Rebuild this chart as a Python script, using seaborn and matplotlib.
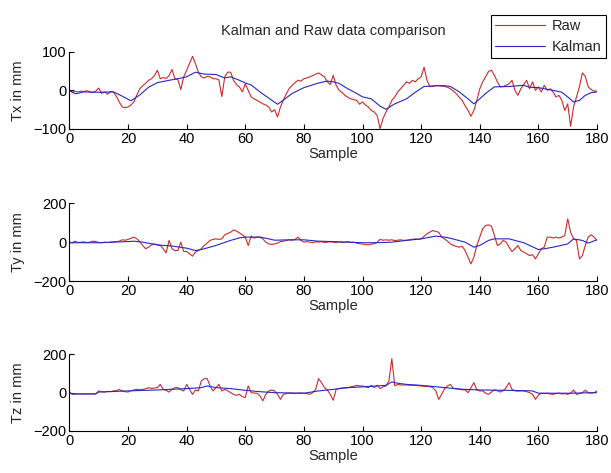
import numpy as np
import pandas as pd
import seaborn as sns
from matplotlib import pyplot as plt

#%% data (sample index -> mm)
sample_raw = list(range(0, 181))

tx_raw = [0, -5, -3, -4, -2, -3, -1, -4, -6, -2, 6, -8, -4, -10, -3, -4, -15, -30, -43, -45,
          -43, -38, -30, -12, 4, 12, 18, 26, 30, 38, 52, 30, 33, 31, 38, 54, 30, 28, 2, 35,
          52, 70, 88, 69, 47, 35, 32, 36, 35, 30, 30, 27, -16, 35, 47, 47, 26, 15, 9, -4,
          17, 0, -17, -22, -26, -30, -35, -38, -43, -56, -50, -69, -43, -25, -9, 5, 13, 20, 26, 24,
          30, 32, 35, 38, 42, 45, 40, 35, 22, 15, 39, 13, 0, -5, -13, -18, -22, -24, -26, -36,
          -30, -38, -43, -52, -56, -65, -99, -73, -56, -43, -26, -17, -4, 4, 13, 22, 18, 26, 22, 30,
          35, 60, 26, 10, 10, 12, 12, 11, 10, 8, 4, -2, -9, -18, -26, -40, -52, -67, -52, -26,
          4, 22, 35, 49, 52, 39, 22, 9, 10, 13, 17, 26, 0, -13, 4, 15, 26, 4, 22, 0,
          9, -4, 13, 0, 4, -4, -17, -13, -26, -52, -35, -93, -43, -17, 9, 45, 36, 9, 2, -2, -2]

tx_kal_x = [0, 2, 5, 10, 15, 18, 21, 24, 27, 30, 34, 37, 40, 43, 46, 50, 53, 55, 58, 60,
            62, 65, 68, 71, 73, 76, 80, 85, 88, 90, 92, 95, 98, 100, 103, 106, 108, 111, 115, 118,
            121, 125, 128, 130, 133, 136, 138, 140, 142, 145, 150, 155, 157, 160, 165, 168, 170, 172, 174, 176,
            178, 180]
tx_kal = [0, -9, -4, -5, -4, -15, -27, -12, 8, 20, 26, 30, 35, 47, 42, 41, 32, 35, 26, 19,
          14, -4, -20, -36, -25, -8, 7, 19, 24, 22, 18, 4, -8, -17, -22, -41, -49, -35, -22, -5,
          10, 12, 12, 10, -4, -22, -35, -22, -8, 9, 10, 13, 8, 7, 0, -5, -17, -30, -26, -13,
          -6, -4]

ty_raw = [0, -3, 5, -2, 0, 2, -3, 0, 5, 3, -2, -3, 0, -2, 0, 2, 3, 5, 12, 10,
          14, 20, 26, 17, 3, -17, -34, -26, -14, -9, -14, -17, -34, -55, 9, -34, -43, -43, 0, -48,
          -48, -60, -72, -51, -43, -34, -17, -5, 9, 14, 17, 14, 17, 38, 45, 51, 63, 57, 48, 38,
          26, -17, 31, 21, 26, 26, 17, 0, -9, -12, -9, -5, 3, 5, 8, 12, 10, 14, 26, 9,
          0, 3, 0, -3, 2, 0, 3, -2, 0, 2, 0, -3, 2, -2, 0, 3, -2, 0, -5, -8,
          -10, -12, -14, -10, -8, 0, 14, 10, 12, 10, 12, 8, 10, 12, 9, 10, 12, 14, 17, 15,
          17, 30, 43, 52, 60, 55, 51, 26, 17, 5, -9, -17, -22, -26, -21, -43, -77, -112, -77, -17,
          26, 69, 86, 89, 82, 34, -17, -9, 9, 0, -26, -48, -34, -17, -43, -51, -60, -69, -65, -86,
          -60, -34, -26, 26, 26, 21, 26, 21, 26, 34, 120, 51, 17, 9, -86, -69, -17, 26, 38, 26, 9]

ty_kal_x = [0, 10, 15, 20, 22, 25, 30, 35, 40, 43, 45, 50, 55, 58, 60, 65, 68, 70, 75, 80,
            85, 90, 95, 100, 105, 110, 115, 120, 125, 128, 130, 135, 138, 140, 143, 145, 150, 155, 160, 162,
            165, 170, 172, 175, 177, 180]
ty_kal = [-3, -3, 0, 3, 5, 0, -14, -20, -31, -43, -38, -17, 9, 22, 26, 26, 17, 10, 12, 12,
          5, 3, 0, -3, -3, 0, 9, 17, 31, 26, 20, 0, -26, -17, 9, 17, 17, -3, -38, -34,
          -26, -9, 17, 9, -5, 12]

tz_raw = [0, -7, -7, -6, -7, -7, -6, -7, -6, -5, 9, 5, 3, 7, 5, 9, 10, 17, 9, 5,
          3, 10, 14, 17, 15, 17, 20, 26, 22, 24, 26, 43, 17, 12, 3, 17, 26, 26, 15, 9,
          43, 17, -9, 14, 9, 61, 73, 73, 35, 9, 26, 43, 9, 17, 10, 0, -9, -14, -9, -21,
          -26, 35, 0, -2, -3, -17, -43, -9, 9, 14, 9, -9, -35, -9, -5, -3, -3, -5, -3, -2,
          -3, -5, -9, 0, 17, 73, 52, 26, 14, -9, -40, 17, 22, 24, 26, 26, 30, 33, 38, 35,
          35, 30, 26, 38, 26, 38, 21, 30, 35, 61, 177, 35, 43, 40, 40, 40, 39, 38, 38, 36,
          35, 33, 32, 31, 26, 9, -35, -9, 21, 35, 43, 22, 20, 17, 15, 14, 0, 26, 52, 14,
          9, 9, -3, -9, 3, 14, 10, 3, 10, 26, 52, 17, 9, 8, 9, 9, 5, 0, -9, -35,
          -14, -3, -5, -3, -7, -9, -5, -3, -7, -5, -9, -3, 14, -9, -5, 0, 12, 0, -3, 0, 9]

tz_kal_x = [0, 1, 9, 10, 20, 30, 40, 45, 47, 50, 55, 60, 65, 70, 80, 85, 90, 95, 100, 105,
            108, 110, 112, 115, 120, 125, 130, 135, 140, 150, 158, 160, 170, 180]
tz_kal = [0, -7, -7, 3, 9, 14, 21, 26, 35, 26, 21, 12, 5, 0, -3, 9, 17, 26, 30, 35,
          38, 56, 49, 43, 38, 31, 23, 17, 14, 12, 9, -3, -3, 0]

panels = [
    ("Tx in mm", tx_raw, tx_kal_x, tx_kal, 100),
    ("Ty in mm", ty_raw, ty_kal_x, ty_kal, 200),
    ("Tz in mm", tz_raw, tz_kal_x, tz_kal, 200),
]
x_ticks = list(range(0, 181, 20))

#%%
sns.set_style("ticks")
plt.rcParams["font.family"] = ["Liberation Sans", "DejaVu Sans"]
plt.rcParams["font.size"] = 10.5
plt.rcParams["xtick.direction"] = "in"
plt.rcParams["ytick.direction"] = "in"

palette = {"Raw": "#cc2a2a", "Kalman": "#2626c4"}

fig = plt.figure(figsize=(6.11, 4.73), dpi=100)
boxes = [(0.1136, 0.7273, 0.8635, 0.1634),
         (0.1136, 0.4059, 0.8635, 0.1643),
         (0.1136, 0.0888, 0.8635, 0.1622)]

for i, ((ylab, raw, kx, kal, lim), box) in enumerate(zip(panels, boxes)):
    ax = fig.add_axes(box)
    table = pd.concat([
        pd.DataFrame({"Sample": sample_raw, "val": raw, "Series": "Raw"}),
        pd.DataFrame({"Sample": kx, "val": kal, "Series": "Kalman"}),
    ], ignore_index=True)
    sns.lineplot(data=table, x="Sample", y="val", hue="Series", palette=palette,
                 estimator=None, sort=False, linewidth=0.8, ax=ax, legend=(i == 0))
    ax.set_xlim(0, 180)
    ax.set_ylim(-lim, lim)
    ax.set_xticks(x_ticks)
    ax.set_yticks([-lim, 0, lim])
    ax.set_xlabel("Sample", labelpad=1)
    ax.set_ylabel(ylab, labelpad=6)
    ax.tick_params(length=3.5, width=0.8, colors="black", pad=2)
    for side in ["top", "right"]:
        ax.spines[side].set_visible(False)
    for side in ["left", "bottom"]:
        ax.spines[side].set_color("black")
        ax.spines[side].set_linewidth(0.8)
    if i == 0:
        ax.set_title("Kalman and Raw data comparison", fontsize=10.5, pad=12)
        handles, labels = ax.get_legend_handles_labels()
        ax.legend(handles, labels, loc="upper left", bbox_to_anchor=(490.7 / 611, 1 - 14.7 / 473),
                  bbox_transform=fig.transFigure, frameon=True, fancybox=False,
                  edgecolor="black", framealpha=1, borderpad=0.3, handlelength=3.4,
                  handletextpad=0.5, labelspacing=0.45, borderaxespad=0)
        ax.get_legend().get_frame().set_linewidth(0.8)

plt.savefig("out.png", dpi=100)
plt.close()
